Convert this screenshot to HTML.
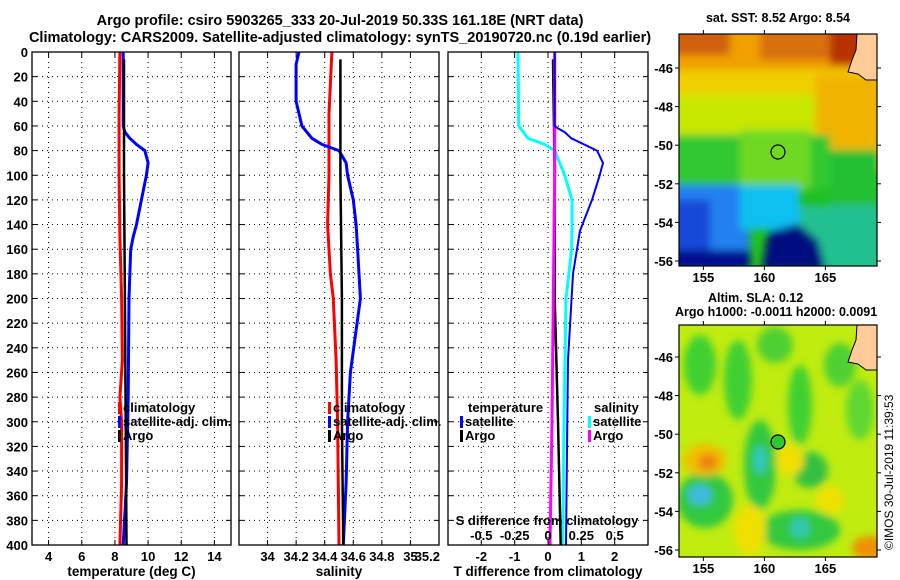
<!DOCTYPE html>
<html><head><meta charset="utf-8">
<style>
html,body{margin:0;padding:0;background:#fff;}
svg{display:block;font-family:"Liberation Sans",Arial,sans-serif;font-weight:bold;}
</style></head>
<body>
<svg id="fig" width="900" height="580" viewBox="0 0 900 580" xmlns="http://www.w3.org/2000/svg">
<defs>
<filter id="bl" x="-20%" y="-20%" width="140%" height="140%"><feGaussianBlur stdDeviation="4"/></filter>
<clipPath id="c1"><rect x="679" y="34" width="198" height="232"/></clipPath>
<clipPath id="c2"><rect x="679" y="325" width="198" height="232"/></clipPath>
</defs>
<text x="340" y="25" text-anchor="middle" font-size="14.5">Argo profile: csiro 5903265_333 20-Jul-2019 50.33S 161.18E (NRT data)</text>
<text x="340" y="42" text-anchor="middle" font-size="14.5">Climatology: CARS2009. Satellite-adjusted climatology: synTS_20190720.nc (0.19d earlier)</text>

<g id="panels"></g>

<!-- SST map -->
<g>
<text x="778" y="22" text-anchor="middle" font-size="12.5">sat. SST: 8.52 Argo: 8.54</text>
<g clip-path="url(#c1)">
<rect x="679" y="34" width="198" height="232" fill="#20c020"/>
<g filter="url(#bl)">
<rect x="670" y="25" width="220" height="50" fill="#f0a000"/>
<rect x="670" y="25" width="60" height="30" fill="#d06010"/>
<rect x="760" y="25" width="90" height="35" fill="#d87010"/>
<rect x="830" y="25" width="50" height="40" fill="#b83000"/>
<rect x="670" y="70" width="220" height="28" fill="#f0d000"/>
<rect x="670" y="95" width="150" height="45" fill="#c8e800"/>
<rect x="815" y="75" width="70" height="95" fill="#f0b400"/>
<rect x="830" y="150" width="50" height="60" fill="#20c030"/>
<rect x="670" y="135" width="160" height="55" fill="#30c830"/>
<rect x="740" y="130" width="70" height="60" fill="#70d820"/>
<rect x="670" y="185" width="80" height="85" fill="#2080f0"/>
<rect x="670" y="200" width="40" height="60" fill="#1848d8"/>
<rect x="740" y="185" width="60" height="45" fill="#10c0f0"/>
<rect x="800" y="205" width="80" height="65" fill="#20c090"/>
<rect x="670" y="250" width="80" height="20" fill="#000c90"/>
<polygon points="762,270 768,232 798,224 818,240 826,270" fill="#000a80"/>
</g>
<polygon points="857,34 877,34 877,80 866,80 858,74 848,72 852,60 856,50" fill="#ffcc99" stroke="#000" stroke-width="1"/>
<circle cx="778" cy="152" r="7" fill="none" stroke="#000" stroke-width="1.2"/>
</g>
<rect x="679" y="34" width="198" height="232" fill="none" stroke="#000" stroke-width="1.2"/>
</g>

<!-- SLA map -->
<g>
<text x="708" y="302" font-size="12.5">Altim. SLA: 0.12</text>
<text x="675" y="316" font-size="12.5">Argo h1000: -0.0011 h2000: 0.0091</text>
<g clip-path="url(#c2)">
<rect x="679" y="325" width="198" height="232" fill="#c0ec10"/>
<g filter="url(#bl)">
<ellipse cx="700" cy="365" rx="16" ry="30" fill="#40d030"/>
<ellipse cx="738" cy="380" rx="14" ry="40" fill="#40d030"/>
<ellipse cx="775" cy="345" rx="18" ry="18" fill="#50d030"/>
<ellipse cx="800" cy="405" rx="12" ry="40" fill="#40d030"/>
<ellipse cx="840" cy="365" rx="16" ry="22" fill="#50d030"/>
<ellipse cx="860" cy="410" rx="14" ry="30" fill="#60d830"/>
<ellipse cx="760" cy="465" rx="16" ry="45" fill="#30c840"/>
<ellipse cx="760" cy="460" rx="6" ry="14" fill="#30c8c8"/>
<ellipse cx="705" cy="500" rx="28" ry="28" fill="#30c840"/>
<ellipse cx="700" cy="495" rx="12" ry="10" fill="#40b8e0"/>
<ellipse cx="810" cy="470" rx="18" ry="18" fill="#30c040"/>
<ellipse cx="800" cy="530" rx="40" ry="20" fill="#30c840"/>
<ellipse cx="800" cy="528" rx="10" ry="10" fill="#30c8b0"/>
<ellipse cx="705" cy="460" rx="22" ry="16" fill="#f0c000"/>
<ellipse cx="708" cy="462" rx="10" ry="8" fill="#f08010"/>
<ellipse cx="870" cy="548" rx="18" ry="12" fill="#f09000"/>
<ellipse cx="750" cy="530" rx="16" ry="25" fill="#f0e000"/>
<ellipse cx="790" cy="460" rx="14" ry="16" fill="#f0e000"/>
<ellipse cx="830" cy="500" rx="14" ry="14" fill="#f0e000"/>
</g>
<polygon points="857,325 877,325 877,370 866,370 858,364 848,362 852,350 856,340" fill="#ffcc99" stroke="#000" stroke-width="1"/>
<circle cx="778" cy="442" r="7" fill="#30c830" stroke="#000" stroke-width="1.2"/>
</g>
<rect x="679" y="325" width="198" height="232" fill="none" stroke="#000" stroke-width="1.2"/>
</g>
<text transform="translate(893,550) rotate(-90)" font-size="12" font-weight="normal">©IMOS 30-Jul-2019 11:39:53</text>
<g id="maplabels"></g>
</svg>
<script>
// ---- data ----
const depthsClimT = [0,50,100,150,200,250,280,300,350,400];
const climT       = [8.3,8.25,8.25,8.3,8.4,8.45,8.3,8.4,8.4,8.3];
const depthsSatT  = [0,60,65,70,75,80,90,100,120,140,150,160,200,280,350,400];
const satT        = [8.5,8.5,8.6,8.9,9.3,9.8,10.0,9.9,9.6,9.3,9.1,8.95,8.85,8.8,8.7,8.5];
const depthsArgoT = [6,100,200,300,400];
const argoT       = [8.55,8.55,8.6,8.65,8.7];

const depthsClimS = [0,50,100,140,180,200,250,300,400];
const climS       = [34.45,34.43,34.43,34.42,34.44,34.46,34.48,34.49,34.50];
const depthsSatS  = [0,10,20,40,60,70,75,80,90,100,120,140,160,200,260,300,350,400];
const satS        = [34.22,34.20,34.20,34.20,34.24,34.31,34.38,34.50,34.55,34.56,34.60,34.62,34.63,34.65,34.58,34.56,34.55,34.53];
const depthsArgoS = [6,100,200,300,400];
const argoS       = [34.51,34.51,34.52,34.52,34.53];

const depthsDT    = [0,60,62,65,70,80,90,100,120,145,180,250,300,400];
const satDT       = [0.2,0.2,0.3,0.5,0.7,1.47,1.65,1.55,1.32,0.96,0.75,0.6,0.58,0.54];
const depthsArgoDT= [6,100,200,300,400];
const argoDT      = [0.15,0.2,0.2,0.3,0.38];
const depthsDS    = [0,60,70,75,80,100,120,140,160,200,300,400];
const satDS       = [-0.225,-0.22,-0.15,-0.025,0.05,0.125,0.18,0.18,0.178,0.135,0.12,0.11];
const depthsArgoDS= [0,100,200,300,400];
const argoDS      = [0.05,0.05,0.04,0.03,0.015];

const depthTicks  = [0,20,40,60,80,100,120,140,160,180,200,220,240,260,280,300,320,340,360,380,400];
const tTicks      = [4,6,8,10,12,14];
const sTicks      = [34,34.2,34.4,34.6,34.8,35,35.2];
const dtTicks     = [-2,-1,0,1,2];
const dsTickLabels= ["-0.5","-0.25","0","0.25","0.5"];
const dsTicks     = [-0.5,-0.25,0,0.25,0.5];
const lonTicks    = [155,160,165];
const latTicks    = [-46,-48,-50,-52,-54,-56];

const NS="http://www.w3.org/2000/svg";
const g=document.getElementById('panels');
function el(tag,attrs,parent){const e=document.createElementNS(NS,tag);for(const k in attrs)e.setAttribute(k,attrs[k]);(parent||g).appendChild(e);return e;}
const yTop=52, yBot=545;
const yD=d=>yTop+(yBot-yTop)*d/400;

const panels=[
 {name:'temperature',x0:32,x1:231,min:3,max:15,ticks:tTicks,title:'temperature (deg C)'},
 {name:'salinity',x0:239,x1:439,min:33.8,max:35.2,ticks:sTicks,title:'salinity'},
 {name:'t-difference',x0:448,x1:648,min:-3,max:3,ticks:dtTicks,title:'T difference from climatology'}
];
panels.forEach(p=>{p.sx=v=>p.x0+(p.x1-p.x0)*(v-p.min)/(p.max-p.min);});

panels.forEach((p,i)=>{
  const pg=el('g',{});
  
  
  el('rect',{x:p.x0,y:yTop,width:p.x1-p.x0,height:yBot-yTop,fill:'#fff'},pg);
  depthTicks.forEach(d=>{
    if(d>0&&d<400) el('line',{x1:p.x0,x2:p.x1,y1:yD(d),y2:yD(d),stroke:'#000','stroke-width':1,'stroke-dasharray':'1,4'},pg);
    el('line',{x1:p.x0,x2:p.x0+5,y1:yD(d),y2:yD(d),stroke:'#000'},pg);
    el('line',{x1:p.x1-5,x2:p.x1,y1:yD(d),y2:yD(d),stroke:'#000'},pg);
    if(i===0){const t=el('text',{x:p.x0-4,y:yD(d)+5,'text-anchor':'end','font-size':13},pg);t.textContent=d;}
  });
  p.ticks.forEach((v,k)=>{
    const x=p.sx(v);
    if(x>p.x0+2&&x<p.x1-2){
      el('line',{x1:x,x2:x,y1:yTop,y2:yBot,stroke:'#000','stroke-dasharray':'1,4'},pg);
      el('line',{x1:x,x2:x,y1:yBot-5,y2:yBot,stroke:'#000'},pg);
      el('line',{x1:x,x2:x,y1:yTop,y2:yTop+5,stroke:'#000'},pg);
    }
    let lx=x, anchor='middle';
    if(i===1&&v===35.2){lx=p.x1+1;anchor='end';}
    const t=el('text',{x:lx,y:yBot+16,'text-anchor':anchor,'font-size':13},pg);t.textContent=v;
  });
  const tt=el('text',{x:(p.x0+p.x1)/2,y:yBot+31,'text-anchor':'middle','font-size':13.5},pg);
  tt.textContent=p.title;
  
  
  p.g=pg;
});

function line(p,depths,vals,color,w,name,scale){
  const pts=depths.map((d,k)=>p.sx(vals[k]*(scale||1)).toFixed(1)+','+yD(d).toFixed(1)).join(' ');
  const e=el('polyline',{points:pts,fill:'none',stroke:color,'stroke-width':w,'stroke-linejoin':'round'},p.g);
  
  
}
const [P1,P2,P3]=panels;
line(P1,depthsClimT,climT,'#ff0000',3,'temp-climatology-line');
line(P1,depthsSatT,satT,'#0000ff',3,'temp-satellite-line');
line(P1,depthsArgoT,argoT,'#000',2.5,'temp-argo-line');
line(P2,depthsClimS,climS,'#ff0000',3,'sal-climatology-line');
line(P2,depthsSatS,satS,'#0000ff',3,'sal-satellite-line');
line(P2,depthsArgoS,argoS,'#000',2.5,'sal-argo-line');
line(P3,depthsDS,satDS,'#00ffff',3,'sdiff-satellite-line',4);
line(P3,depthsArgoDT,argoDT,'#000',2.5,'tdiff-argo-line');
line(P3,depthsArgoDS,argoDS,'#ff00ff',3,'sdiff-argo-line',4);
line(P3,depthsDT,satDT,'#0000ff',2,'tdiff-satellite-line');

panels.forEach(p=>el('rect',{x:p.x0,y:yTop,width:p.x1-p.x0,height:yBot-yTop,fill:'none',stroke:'#000','stroke-width':1.3},p.g));

// S-difference secondary axis inside panel 3
const st=el('text',{x:547,y:525,'text-anchor':'middle','font-size':13},P3.g);st.textContent='S difference from climatology';


dsTicks.forEach((v,k)=>{const t=el('text',{x:P3.sx(v*4),y:540,'text-anchor':'middle','font-size':13},P3.g);t.textContent=dsTickLabels[k];});

// legends
function legend(parent,x,y,color,label,name){
  const lg=el('g',{},parent);
  
  
  el('rect',{x:x,y:y-10,width:3,height:12,fill:color},lg);
  const t=el('text',{x:x+5,y:y,'font-size':13},lg);t.textContent=label;
}
legend(P1.g,118,412,'#ff0000','climatology','legend-climatology-temp');
legend(P1.g,118,426,'#0000ff','satellite-adj. clim.','legend-satellite-temp');
legend(P1.g,118,440,'#000','Argo','legend-argo-temp');
legend(P2.g,328,412,'#ff0000','climatology','legend-climatology-sal');
legend(P2.g,328,426,'#0000ff','satellite-adj. clim.','legend-satellite-sal');
legend(P2.g,328,440,'#000','Argo','legend-argo-sal');
{const t=el('text',{x:468,y:412,'font-size':13},P3.g);t.textContent='temperature';}
legend(P3.g,460,426,'#0000ff','satellite','legend-tdiff-satellite');
legend(P3.g,460,440,'#000','Argo','legend-tdiff-argo');
{const t=el('text',{x:594,y:412,'font-size':13},P3.g);t.textContent='salinity';}
legend(P3.g,588,426,'#00ffff','satellite','legend-sdiff-satellite');
legend(P3.g,588,440,'#ff00ff','Argo','legend-sdiff-argo');

// map labels
const ml=document.getElementById('maplabels');
const lonX=v=>679+(v-153)*12.2;
[[34,266],[325,557]].forEach(([y0,y1],m)=>{
  lonTicks.forEach(v=>{const x=lonX(v);
    el('line',{x1:x,x2:x,y1:y0-4,y2:y0,stroke:'#000'},ml);
    el('line',{x1:x,x2:x,y1:y1,y2:y1+4,stroke:'#000'},ml);
    const t=el('text',{x:x,y:y1+16,'text-anchor':'middle','font-size':13},ml);t.textContent=v;});
  const latY=m===0?(v=>68+(-46-v)*19.3):(v=>357+(-46-v)*19.3);
  latTicks.forEach(v=>{const y=latY(v);
    el('line',{x1:675,x2:679,y1:y,y2:y,stroke:'#000'},ml);
    el('line',{x1:877,x2:881,y1:y,y2:y,stroke:'#000'},ml);
    const t=el('text',{x:673,y:y+5,'text-anchor':'end','font-size':13},ml);t.textContent=v;});
});
</script>
</body></html>
